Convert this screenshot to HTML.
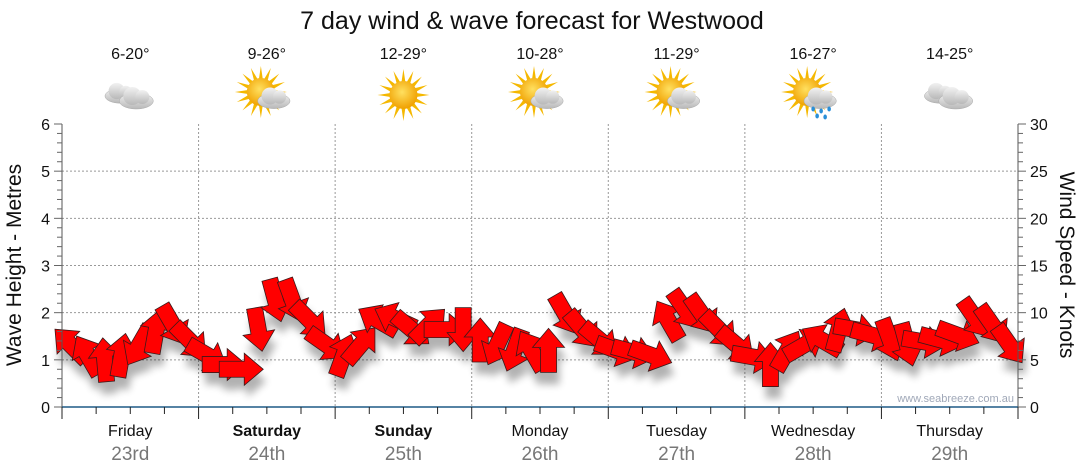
<!DOCTYPE html>
<html><head><meta charset="utf-8"><style>
body{margin:0;background:#fff;}
svg{display:block;font-family:"Liberation Sans",sans-serif;}
</style></head><body>
<svg id="chart" width="1080" height="475">
<defs>
<filter id="sh" x="-50%" y="-50%" width="200%" height="200%"><feGaussianBlur stdDeviation="4"/></filter>
<radialGradient id="sun" cx="0.45" cy="0.4" r="0.6"><stop offset="0" stop-color="#ffe060"/><stop offset="1" stop-color="#f0a000"/></radialGradient>
<linearGradient id="cld" x1="0" y1="0" x2="0" y2="1"><stop offset="0" stop-color="#f2f2f2"/><stop offset="1" stop-color="#b8b8b8"/></linearGradient>
</defs>
<text x="532" y="29" font-size="25" text-anchor="middle" fill="#111">7 day wind &amp; wave forecast for Westwood</text>
<g id="grid"></g>
<g id="shadows" filter="url(#sh)" opacity="0.3"></g>
<g id="arrows"></g>
<g id="axes"></g>
<g id="topg"></g>
<text transform="translate(21,265) rotate(-90)" font-size="21" text-anchor="middle" fill="#111">Wave Height - Metres</text>
<text transform="translate(1060,265) rotate(90)" font-size="21" text-anchor="middle" fill="#111">Wind Speed - Knots</text>
<text x="1014" y="402" font-size="11" text-anchor="end" fill="#a0a8b8">www.seabreeze.com.au</text>
</svg>
<script>
const days=["Friday","Saturday","Sunday","Monday","Tuesday","Wednesday","Thursday"];
const dates=["23rd","24th","25th","26th","27th","28th","29th"];
const boldDays=[false,true,true,false,false,false,false];
const temps=["6-20°","9-26°","12-29°","10-28°","11-29°","16-27°","14-25°"];
const icons=["cloud","sunCloud","sun","sunCloud","sunCloud","rain","cloud"];
const leftTicks=[0,1,2,3,4,5,6];
const rightTicks=[0,5,10,15,20,25,30];
const windSpeed=[6.6,5.5,5,5.5,6.5,8,8.7,7,5.5,4.5,4,8.2,11.3,11.3,9.2,6.6,5.5,6.6,9.2,9.4,8.2,8.7,8.2,8.2,7.1,6.6,6,6,6,9.8,8.2,7.1,6,5.8,5.5,9.2,10.3,9.8,8.2,6.6,5.3,4.5,6,6.6,7.1,8.2,8.2,7.6,7.1,6.6,6.9,7.1,7.6,9.4,8.7,6.6];
const windDir=[-135,-120,-95,-80,120,-80,60,45,30,0,0,80,75,70,45,35,-70,-50,-150,-155,40,-45,0,90,-90,115,110,-120,-90,60,50,40,20,15,20,-120,55,55,45,40,10,-90,-60,-30,-150,-75,10,15,70,75,10,15,20,55,55,55];
const NS="http://www.w3.org/2000/svg";
const X0=62,X1=1018,Y0=407,Y1=124;
const dayW=(X1-X0)/7;
function yL(m){return Y0-(Y0-Y1)*m/6;}
function yR(k){return Y0-(Y0-Y1)*k/30;}
function xIdx(i){return X0+dayW*(i+0.5)/8;}
function mk(tag,attrs,parent){const e=document.createElementNS(NS,tag);for(const k in attrs)e.setAttribute(k,attrs[k]);parent.appendChild(e);return e;}
const grid=document.getElementById('grid'),axes=document.getElementById('axes'),topG=document.getElementById('topg');
leftTicks.forEach(v=>{if(v>0&&v<6){const l=mk('line',{x1:X0,x2:X1,y1:yL(v),y2:yL(v),stroke:'#999','stroke-dasharray':'2,2'},grid);}});
for(let d=1;d<7;d++){const l=mk('line',{x1:X0+d*dayW,x2:X0+d*dayW,y1:Y1,y2:Y0,stroke:'#999','stroke-dasharray':'2,2'},grid);}
mk('line',{x1:X0,x2:X0,y1:Y1,y2:Y0,stroke:'#555'},axes);
mk('line',{x1:X1,x2:X1,y1:Y1,y2:Y0,stroke:'#555'},axes);
const xa=mk('line',{x1:X0,x2:X1,y1:Y0,y2:Y0,stroke:'#1f5a85','stroke-width':1.5},axes);


for(let i=0;i<=30;i++){const y=Y1+(Y0-Y1)*i/30;mk('line',{x1:X0-(i%5==0?8:5),x2:X0,y1:y,y2:y,stroke:'#666'},axes);mk('line',{x1:X1,x2:X1+(i%5==0?8:5),y1:y,y2:y,stroke:'#666'},axes);}
leftTicks.forEach(v=>{const t=mk('text',{x:X0-12,y:yL(v)+6,'font-size':16,'text-anchor':'end',fill:'#111'},axes);t.textContent=v;

});
rightTicks.forEach(v=>{const t=mk('text',{x:X1+12,y:yR(v)+6,'font-size':16,fill:'#111'},axes);t.textContent=v;

});
for(let i=0;i<=28;i++){const x=X0+dayW*i/4;mk('line',{x1:x,x2:x,y1:Y0,y2:Y0+(i%4==0?12:7),stroke:'#222'},axes);}
days.forEach((d,i)=>{const cx=X0+dayW*(i+0.5);
const t=mk('text',{x:cx,y:436,'font-size':16,'text-anchor':'middle',fill:'#111','font-weight':boldDays[i]?'bold':'normal'},axes);t.textContent=d;


const t2=mk('text',{x:cx,y:460,'font-size':19,'text-anchor':'middle',fill:'#777'},axes);t2.textContent=dates[i];


const t3=mk('text',{x:cx,y:59,'font-size':16,'text-anchor':'middle',fill:'#111'},topG);t3.textContent=temps[i];


const g=mk('g',{transform:`translate(${cx},95)`},topG);


const ic=icons[i];
if(ic!=='cloud'){const sx=ic==='sun'?0:-6,sy=ic==='sun'?0:-3;for(let a=0;a<360;a+=22.5){const r=a*Math.PI/180;mk('polygon',{points:`${sx+Math.cos(r)*26},${sy+Math.sin(r)*26} ${sx+Math.cos(r+0.15)*13},${sy+Math.sin(r+0.15)*13} ${sx+Math.cos(r-0.15)*13},${sy+Math.sin(r-0.15)*13}`,fill:'#f5b800'},g);}mk('circle',{cx:sx,cy:sy,r:14,fill:'url(#sun)'},g);}
function cloud(ox,oy,s){mk('ellipse',{cx:ox,cy:oy+4,rx:17*s,ry:8*s,fill:'url(#cld)',stroke:'#aaa','stroke-width':0.5},g);mk('circle',{cx:ox-4*s,cy:oy-1,r:9*s,fill:'url(#cld)'},g);mk('circle',{cx:ox+6*s,cy:oy,r:7*s,fill:'url(#cld)'},g);}
if(ic==='cloud'){cloud(-10,-3,0.9);cloud(6,2,1);}
else if(ic!=='sun'){cloud(7,2,0.95);}
if(ic==='rain'){[[0,14],[8,16],[16,14],[4,21],[12,22]].forEach(p=>mk('ellipse',{cx:p[0],cy:p[1],rx:1.8,ry:2.5,fill:'#2a8fd8'},g));}
});
const sg=document.getElementById('shadows'),ag=document.getElementById('arrows');
const L=44,HL=19,HW=16,SW=8;
const pts=`${-L/2},${-SW} ${L/2-HL},${-SW} ${L/2-HL},${-HW} ${L/2},0 ${L/2-HL},${HW} ${L/2-HL},${SW} ${-L/2},${SW}`;
windSpeed.forEach((s,i)=>{const x=xIdx(i),y=yR(s);
mk('polygon',{points:pts,fill:'#000',transform:`translate(${x+3},${y+12}) rotate(${windDir[i]})`},sg);
const p=mk('polygon',{points:pts,fill:'#ff0000',stroke:'#3a1a1a','stroke-width':0.8,transform:`translate(${x},${y}) rotate(${windDir[i]})`},ag);


});
</script>
</body></html>
